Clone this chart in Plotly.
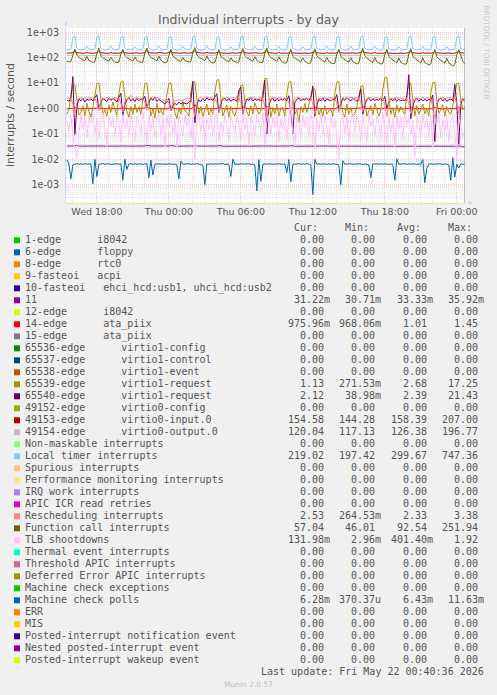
import plotly.graph_objects as go
import pandas as pd

# ---------------- layout constants (pixels) ----------------
W, H = 497, 695
ML, MR, MT, MB = 66, 32, 28, 492
PW = W - ML - MR          # 399
PH = H - MT - MB          # 175
PB = MT + PH              # 203

# ---------------- data ----------------
START = "2026-05-20 15:30"
N_POINTS = 200            # one point per 10 minutes
X_RANGE = ["2026-05-20 15:25:36", "2026-05-22 00:41:00"]
LAST_UPDATE = "2026-05-22 00:40:36"
LAST_UPDATE_TEXT = "Last update: Fri May 22 00:40:36 2026"

X_TICKVALS = ["2026-05-20 18:00", "2026-05-20 21:00", "2026-05-21 00:00", "2026-05-21 03:00",
              "2026-05-21 06:00", "2026-05-21 09:00", "2026-05-21 12:00", "2026-05-21 15:00",
              "2026-05-21 18:00", "2026-05-21 21:00", "2026-05-22 00:00"]
X_TICKTEXT = ["Wed 18:00", "", "Thu 00:00", "", "Thu 06:00", "", "Thu 12:00", "",
              "Thu 18:00", "", "Fri 00:00"]
Y_TICKVALS = [1e-3, 1e-2, 1e-1, 1e0, 1e1, 1e2, 1e3]
Y_TICKTEXT = ["1e-03", "1e-02", "1e-01", "1e+00", "1e+01", "1e+02", "1e+03"]

# each row = one 2-hour block of 12 ten-minute samples
IRQ11 = [
    [0.0333, 0.0331, 0.0334, 0.0336, 0.0348, 0.0337, 0.0332, 0.0330, 0.0331, 0.0333, 0.0335, 0.0332],
    [0.0332, 0.0330, 0.0333, 0.0338, 0.0352, 0.0336, 0.0331, 0.0329, 0.0330, 0.0332, 0.0336, 0.0331],
    [0.0331, 0.0329, 0.0332, 0.0335, 0.0346, 0.0335, 0.0330, 0.0328, 0.0329, 0.0331, 0.0334, 0.0330],
    [0.0332, 0.0330, 0.0333, 0.0337, 0.0359, 0.0338, 0.0332, 0.0330, 0.0331, 0.0332, 0.0335, 0.0331],
    [0.0331, 0.0329, 0.0332, 0.0335, 0.0345, 0.0334, 0.0330, 0.0328, 0.0329, 0.0330, 0.0333, 0.0330],
    [0.0332, 0.0331, 0.0334, 0.0339, 0.0355, 0.0337, 0.0332, 0.0330, 0.0331, 0.0333, 0.0336, 0.0332],
    [0.0330, 0.0328, 0.0331, 0.0334, 0.0344, 0.0334, 0.0329, 0.0327, 0.0328, 0.0330, 0.0333, 0.0329],
    [0.0331, 0.0330, 0.0333, 0.0336, 0.0349, 0.0336, 0.0331, 0.0329, 0.0330, 0.0332, 0.0335, 0.0331],
    [0.0332, 0.0330, 0.0333, 0.0338, 0.0353, 0.0337, 0.0331, 0.0329, 0.0330, 0.0332, 0.0335, 0.0331],
    [0.0330, 0.0328, 0.0331, 0.0334, 0.0343, 0.0333, 0.0329, 0.0327, 0.0328, 0.0329, 0.0332, 0.0329],
    [0.0331, 0.0329, 0.0332, 0.0336, 0.0347, 0.0335, 0.0330, 0.0328, 0.0329, 0.0331, 0.0334, 0.0330],
    [0.0330, 0.0329, 0.0331, 0.0335, 0.0346, 0.0334, 0.0329, 0.0327, 0.0328, 0.0330, 0.0333, 0.0329],
    [0.0331, 0.0330, 0.0332, 0.0337, 0.0350, 0.0336, 0.0330, 0.0328, 0.0329, 0.0331, 0.0334, 0.0330],
    [0.0329, 0.0327, 0.0330, 0.0333, 0.0342, 0.0332, 0.0328, 0.0326, 0.0327, 0.0328, 0.0331, 0.0328],
    [0.0330, 0.0328, 0.0331, 0.0335, 0.0348, 0.0334, 0.0329, 0.0327, 0.0328, 0.0330, 0.0333, 0.0329],
    [0.0329, 0.0327, 0.0330, 0.0333, 0.0344, 0.0332, 0.0328, 0.0326, 0.0327, 0.0328, 0.0331, 0.0328],
    [0.0329, 0.0327, 0.0330, 0.0334, 0.0345, 0.0331, 0.0307, 0.0312],
]
ATA_PIIX14 = [
    [0.98, 0.98, 0.99, 1.02, 1.12, 1.03, 0.99, 0.98, 0.98, 0.99, 1.01, 0.98],
    [0.98, 0.97, 0.99, 1.03, 1.18, 1.02, 0.99, 0.98, 0.97, 0.98, 1.02, 0.99],
    [0.99, 0.98, 0.98, 1.01, 1.10, 1.02, 0.98, 0.97, 0.98, 0.99, 1.00, 0.98],
    [0.98, 0.98, 0.99, 1.04, 1.20, 1.03, 0.99, 0.98, 0.98, 0.98, 1.01, 0.99],
    [0.98, 0.97, 0.98, 1.02, 1.14, 1.02, 0.98, 0.97, 0.98, 0.98, 1.01, 0.98],
    [0.99, 0.98, 0.99, 1.08, 1.45, 1.05, 0.99, 0.98, 0.98, 0.99, 1.02, 0.99],
    [0.98, 0.97, 0.98, 1.01, 1.11, 1.02, 0.98, 0.97, 0.97, 0.98, 1.00, 0.98],
    [0.98, 0.98, 0.99, 1.03, 1.16, 1.03, 0.99, 0.98, 0.98, 0.99, 1.01, 0.98],
    [0.98, 0.97, 0.99, 1.05, 1.25, 1.04, 0.99, 0.98, 0.97, 0.98, 1.02, 0.99],
    [0.98, 0.97, 0.98, 1.02, 1.12, 1.02, 0.98, 0.97, 0.97, 0.98, 1.00, 0.98],
    [0.98, 0.98, 0.99, 1.03, 1.15, 1.02, 0.99, 0.98, 0.98, 0.98, 1.01, 0.99],
    [0.98, 0.97, 0.98, 1.02, 1.13, 1.02, 0.98, 0.97, 0.98, 0.98, 1.01, 0.98],
    [0.99, 0.98, 0.99, 1.04, 1.19, 1.03, 0.99, 0.98, 0.98, 0.99, 1.02, 0.99],
    [0.98, 0.97, 0.98, 1.01, 1.10, 1.01, 0.98, 0.97, 0.97, 0.98, 1.00, 0.98],
    [0.98, 0.98, 0.99, 1.03, 1.17, 1.03, 0.99, 0.98, 0.98, 0.98, 1.01, 0.99],
    [0.98, 0.97, 0.98, 1.02, 1.12, 1.02, 0.98, 0.97, 0.97, 0.98, 1.01, 0.98],
    [0.98, 0.98, 0.99, 1.03, 1.14, 1.02, 0.98, 0.976],
]
VIRTIO1_REQ_65539 = [
    [0.6, 0.9, 3.0, 8.0, 8.5, 2.0, 0.55, 0.7, 1.3, 0.5, 1.6, 0.8],
    [0.45, 1.1, 3.5, 9.5, 10.0, 2.2, 0.6, 0.9, 0.5, 1.4, 0.7, 1.8],
    [0.9, 0.5, 4.0, 11.0, 12.0, 2.5, 0.8, 0.45, 1.2, 0.6, 1.5, 0.7],
    [1.2, 0.6, 3.2, 9.8, 10.0, 1.8, 0.5, 1.0, 0.42, 1.6, 0.65, 0.9],
    [0.55, 1.3, 3.6, 9.5, 10.2, 2.1, 0.7, 0.4, 1.1, 0.6, 1.9, 0.8],
    [0.7, 0.5, 4.2, 11.5, 11.0, 2.4, 0.6, 1.2, 0.48, 0.9, 1.5, 0.55],
    [0.95, 0.6, 4.5, 13.0, 13.7, 2.6, 0.5, 0.85, 1.4, 0.45, 1.2, 0.7],
    [0.5, 1.0, 3.0, 8.2, 8.5, 1.9, 0.75, 0.5, 1.3, 0.6, 1.7, 0.9],
    [0.6, 0.8, 5.0, 15.0, 15.7, 2.8, 0.45, 1.1, 0.6, 1.5, 0.5, 1.0],
    [1.1, 0.5, 3.8, 11.0, 11.5, 2.3, 0.6, 0.9, 0.27, 1.2, 0.7, 1.6],
    [0.7, 1.4, 2.5, 5.5, 6.0, 1.7, 0.55, 1.0, 0.5, 1.3, 0.6, 0.8],
    [0.9, 0.5, 3.9, 11.0, 11.5, 2.2, 0.7, 0.45, 1.5, 0.6, 1.1, 0.5],
    [0.6, 1.2, 3.0, 7.5, 8.0, 1.9, 0.5, 0.8, 1.3, 0.55, 1.6, 0.9],
    [0.5, 0.9, 5.5, 16.5, 17.25, 2.9, 0.6, 1.1, 0.45, 1.4, 0.7, 1.2],
    [0.8, 0.55, 3.6, 9.6, 10.0, 2.0, 0.5, 1.3, 0.6, 0.9, 1.5, 0.6],
    [1.0, 0.5, 4.0, 10.5, 11.0, 2.2, 0.65, 0.9, 1.4, 0.5, 1.2, 0.7],
    [0.6, 1.3, 3.7, 9.5, 10.0, 2.1, 0.9, 1.13],
]
VIRTIO1_REQ_65540 = [
    [2.2, 1.9, 2.5, 18.0, 0.095, 1.2, 2.4, 2.0, 2.6, 1.8, 2.3, 2.1],
    [2.4, 2.0, 2.7, 3.5, 0.9, 1.8, 2.5, 2.2, 1.9, 2.6, 2.1, 2.4],
    [2.3, 1.8, 2.6, 4.0, 0.5, 1.5, 2.2, 2.7, 2.0, 2.4, 1.9, 2.5],
    [2.0, 2.4, 2.2, 3.0, 1.1, 1.7, 2.6, 2.1, 2.8, 1.9, 2.3, 2.0],
    [1.8, 1.5, 1.9, 2.5, 0.8, 1.3, 1.6, 1.4, 1.8, 1.5, 1.7, 1.6],
    [1.5, 1.8, 2.0, 11.5, 0.27, 1.4, 2.2, 1.9, 2.5, 2.0, 2.6, 2.2],
    [2.4, 2.1, 2.7, 3.8, 0.7, 1.6, 2.3, 2.6, 2.0, 2.5, 1.9, 2.3],
    [2.2, 1.9, 5.0, 7.0, 0.6, 1.5, 2.4, 2.1, 2.7, 2.0, 2.4, 2.1],
    [2.3, 2.0, 2.6, 13.0, 0.10, 1.3, 2.2, 2.5, 1.9, 2.6, 2.0, 2.4],
    [2.1, 2.5, 2.0, 3.2, 1.0, 0.10, 1.8, 2.3, 2.6, 2.0, 2.4, 2.2],
    [2.5, 2.1, 2.7, 7.7, 0.5, 1.4, 2.3, 2.0, 2.6, 1.9, 2.4, 2.2],
    [2.0, 2.4, 2.2, 3.5, 0.9, 1.6, 2.5, 2.1, 2.7, 2.2, 2.0, 2.5],
    [2.3, 1.9, 2.5, 6.0, 0.6, 1.5, 2.2, 2.6, 2.0, 2.4, 2.1, 2.3],
    [2.1, 2.5, 2.0, 3.0, 1.0, 1.8, 2.4, 2.0, 2.6, 1.9, 2.3, 2.0],
    [2.2, 2.0, 2.6, 21.43, 0.4, 1.3, 2.1, 2.5, 1.9, 2.4, 2.0, 2.3],
    [2.0, 2.3, 2.1, 3.4, 0.05, 1.5, 2.2, 2.6, 2.0, 2.5, 1.9, 2.2],
    [2.4, 2.0, 9.0, 1.5, 0.039, 1.6, 2.3, 2.12],
]
VIRTIO0_INPUT = [
    [152, 150, 153, 160, 175, 158, 153, 150, 149, 151, 157, 152],
    [151, 149, 152, 162, 180, 157, 152, 149, 150, 150, 158, 151],
    [150, 148, 151, 158, 170, 155, 151, 148, 147, 149, 155, 150],
    [152, 150, 153, 165, 207, 162, 154, 151, 150, 152, 160, 153],
    [151, 149, 152, 159, 174, 156, 152, 149, 148, 150, 156, 151],
    [153, 151, 154, 163, 185, 160, 155, 152, 151, 153, 159, 154],
    [150, 148, 151, 157, 168, 154, 150, 147, 146, 148, 154, 149],
    [152, 150, 153, 161, 178, 158, 153, 150, 149, 151, 157, 152],
    [151, 149, 152, 164, 190, 159, 152, 149, 148, 150, 158, 151],
    [150, 147, 150, 156, 170, 154, 150, 147, 146, 148, 153, 149],
    [151, 149, 152, 160, 176, 157, 152, 149, 148, 150, 156, 151],
    [150, 148, 151, 158, 172, 155, 151, 148, 147, 149, 155, 150],
    [152, 150, 153, 162, 182, 159, 153, 150, 149, 151, 158, 152],
    [149, 146, 149, 155, 168, 153, 149, 146, 144, 147, 152, 148],
    [151, 149, 152, 160, 179, 157, 152, 149, 148, 150, 157, 151],
    [150, 148, 151, 157, 171, 155, 151, 148, 147, 149, 154, 150],
    [151, 149, 152, 159, 175, 156, 153, 155],
]
VIRTIO0_OUTPUT = [
    [122, 120, 123, 135, 170, 132, 124, 121, 120, 121, 128, 122],
    [121, 119, 122, 138, 178, 130, 123, 120, 119, 120, 129, 121],
    [120, 118, 121, 133, 162, 128, 122, 119, 118, 119, 126, 120],
    [122, 120, 123, 140, 196, 135, 125, 121, 120, 122, 130, 122],
    [121, 119, 122, 134, 168, 129, 123, 120, 119, 120, 127, 121],
    [123, 121, 124, 139, 182, 133, 125, 122, 121, 123, 130, 123],
    [120, 118, 121, 132, 160, 127, 121, 118, 117, 119, 125, 120],
    [122, 120, 123, 137, 175, 131, 124, 121, 120, 121, 129, 122],
    [121, 119, 122, 139, 186, 132, 123, 120, 119, 120, 128, 121],
    [120, 118, 120, 131, 163, 127, 121, 118, 117, 118, 125, 119],
    [121, 119, 122, 136, 172, 130, 123, 120, 119, 120, 127, 121],
    [120, 118, 121, 134, 166, 128, 122, 119, 118, 119, 126, 120],
    [122, 120, 123, 138, 180, 132, 124, 121, 120, 121, 129, 122],
    [119, 117, 119, 130, 160, 126, 120, 117, 117, 118, 124, 119],
    [121, 119, 122, 136, 176, 131, 123, 120, 119, 120, 128, 121],
    [120, 118, 121, 133, 165, 128, 122, 119, 118, 119, 126, 120],
    [121, 119, 122, 135, 170, 130, 121, 120],
]
LOCAL_TIMER = [
    [214, 209, 216, 630, 712, 236, 211, 207, 210, 214, 288, 219],
    [208, 206, 212, 655, 725, 228, 209, 205, 208, 212, 295, 216],
    [210, 207, 214, 620, 705, 232, 210, 206, 211, 209, 280, 215],
    [206, 205, 213, 645, 730, 240, 212, 207, 206, 210, 292, 214],
    [209, 204, 211, 610, 700, 226, 208, 205, 209, 211, 284, 217],
    [211, 207, 215, 660, 740, 235, 210, 208, 207, 213, 298, 218],
    [207, 205, 212, 600, 695, 229, 206, 204, 208, 210, 282, 213],
    [210, 206, 214, 650, 720, 233, 211, 206, 209, 212, 290, 216],
    [208, 204, 213, 635, 747, 238, 209, 205, 207, 211, 287, 215],
    [206, 203, 211, 615, 705, 227, 207, 203, 206, 209, 279, 212],
    [209, 205, 214, 640, 718, 231, 210, 206, 208, 211, 293, 217],
    [207, 204, 212, 625, 710, 230, 208, 204, 207, 210, 285, 214],
    [210, 206, 215, 650, 728, 236, 211, 207, 209, 213, 291, 218],
    [205, 198, 211, 605, 698, 225, 206, 202, 205, 208, 281, 212],
    [208, 205, 213, 640, 722, 232, 209, 205, 207, 211, 289, 215],
    [206, 204, 212, 620, 708, 229, 207, 203, 206, 209, 283, 213],
    [209, 205, 214, 645, 716, 234, 212, 219],
]
RESCHEDULING = [
    [2.6, 2.5, 2.4, 1.5, 0.55, 1.8, 2.6, 2.7, 2.5, 2.6, 2.4, 2.7],
    [2.6, 2.7, 2.5, 1.7, 0.85, 2.0, 2.6, 2.5, 2.7, 2.6, 2.5, 2.6],
    [2.7, 2.5, 2.6, 1.6, 0.7, 1.9, 2.5, 2.6, 3.38, 2.5, 2.6, 2.7],
    [2.5, 2.6, 2.4, 1.8, 0.9, 2.1, 2.7, 2.6, 2.5, 2.7, 2.6, 2.5],
    [2.2, 2.1, 2.3, 1.6, 0.8, 1.8, 2.0, 2.1, 2.2, 2.0, 2.1, 2.3],
    [2.4, 2.6, 2.5, 1.3, 0.48, 1.7, 2.6, 2.7, 2.5, 2.6, 2.8, 2.6],
    [2.7, 2.6, 2.5, 1.7, 0.75, 2.0, 2.6, 2.5, 2.7, 2.6, 2.5, 2.7],
    [2.6, 2.5, 2.7, 1.6, 0.65, 1.9, 2.5, 2.6, 2.5, 2.7, 2.6, 2.5],
    [2.6, 2.7, 2.5, 1.2, 0.40, 1.6, 2.6, 2.7, 2.6, 2.5, 2.7, 2.6],
    [2.5, 2.6, 2.4, 1.7, 0.8, 1.9, 2.5, 2.6, 2.7, 2.5, 2.6, 2.5],
    [2.6, 2.5, 2.7, 1.5, 0.6, 1.8, 2.6, 2.5, 2.6, 2.7, 2.5, 2.6],
    [2.7, 2.6, 2.5, 1.6, 0.7, 2.0, 2.7, 2.6, 2.5, 2.6, 2.7, 2.6],
    [2.6, 2.7, 2.5, 1.7, 0.75, 1.9, 2.5, 2.6, 2.7, 2.5, 2.6, 2.7],
    [2.5, 2.6, 2.7, 1.4, 0.5, 1.7, 2.6, 2.5, 2.6, 2.7, 2.5, 2.6],
    [2.6, 2.5, 2.6, 1.6, 0.6, 1.8, 2.7, 2.6, 2.5, 2.6, 2.7, 2.5],
    [2.7, 2.6, 2.5, 1.1, 0.26, 1.5, 2.5, 2.6, 2.7, 2.5, 2.6, 2.7],
    [2.6, 2.5, 2.7, 1.5, 0.6, 1.9, 2.6, 2.53],
]
FUNCTION_CALL = [
    [72, 68, 70, 135, 220, 125, 102, 92, 82, 76, 112, 80],
    [71, 66, 69, 150, 235, 118, 98, 88, 79, 73, 105, 78],
    [68, 64, 67, 140, 215, 122, 101, 90, 80, 74, 108, 77],
    [70, 65, 68, 155, 240, 128, 104, 91, 83, 75, 115, 81],
    [69, 63, 66, 138, 218, 116, 97, 86, 78, 71, 102, 76],
    [73, 67, 71, 160, 252, 130, 106, 93, 84, 77, 118, 82],
    [67, 62, 65, 132, 210, 112, 95, 85, 76, 70, 100, 74],
    [70, 66, 69, 148, 230, 121, 100, 89, 80, 73, 110, 78],
    [68, 64, 68, 152, 245, 126, 103, 90, 81, 72, 109, 77],
    [66, 61, 64, 136, 212, 114, 96, 84, 75, 69, 99, 72],
    [65, 60, 63, 142, 225, 119, 98, 86, 74, 68, 104, 71],
    [64, 58, 62, 139, 220, 117, 95, 83, 72, 66, 101, 70],
    [63, 57, 61, 145, 232, 120, 97, 84, 73, 65, 103, 68],
    [62, 56, 60, 134, 214, 113, 93, 81, 70, 63, 98, 66],
    [60, 55, 59, 140, 228, 118, 95, 82, 69, 62, 100, 64],
    [58, 52, 57, 130, 210, 110, 90, 78, 66, 60, 95, 62],
    [56, 46, 55, 128, 205, 108, 72, 57],
]
TLB_SHOOTDOWNS = [
    [0.35, 0.12, 0.55, 0.08, 0.03, 0.012, 0.09, 0.6, 0.15, 0.45, 0.07, 0.5],
    [0.25, 0.65, 0.1, 0.4, 0.06, 0.3, 0.7, 0.12, 0.032, 0.5, 0.2, 0.45],
    [0.08, 0.55, 0.3, 0.05, 0.6, 0.15, 0.42, 0.09, 0.65, 0.22, 0.05, 0.5],
    [0.3, 0.1, 0.7, 0.2, 0.04, 0.55, 0.13, 0.48, 0.07, 0.35, 0.62, 0.09],
    [0.45, 0.03, 0.5, 0.18, 0.6, 0.1, 0.4, 0.028, 0.55, 0.25, 0.08, 0.58],
    [0.2, 0.5, 0.07, 0.45, 0.010, 0.35, 0.66, 0.12, 0.5, 0.04, 0.4, 0.15],
    [0.6, 0.09, 0.38, 0.7, 0.05, 0.3, 0.11, 0.55, 0.2, 0.045, 0.5, 0.25],
    [0.1, 0.48, 0.22, 0.06, 0.62, 0.14, 0.4, 0.035, 0.52, 0.3, 0.08, 0.6],
    [0.35, 0.12, 0.68, 0.04, 0.3, 0.55, 0.09, 0.45, 0.18, 0.6, 0.05, 0.4],
    [0.15, 0.5, 0.06, 0.38, 1.92, 0.1, 0.033, 0.5, 0.25, 0.07, 0.58, 0.2],
    [0.45, 0.08, 0.6, 0.3, 0.025, 0.4, 0.12, 0.66, 0.09, 0.5, 0.2, 0.04],
    [0.55, 0.18, 0.42, 0.07, 0.010, 0.3, 0.6, 0.1, 0.48, 0.05, 0.35, 0.7],
    [0.12, 0.5, 0.28, 0.06, 0.55, 0.15, 0.045, 0.62, 0.2, 0.4, 0.08, 0.5],
    [0.3, 0.07, 0.65, 0.2, 0.04, 0.5, 0.1, 0.4, 0.03, 0.56, 0.15, 0.45],
    [0.06, 0.6, 0.22, 0.48, 0.1, 0.35, 0.013, 0.5, 0.25, 0.08, 0.62, 0.18],
    [0.4, 0.09, 0.55, 0.03, 0.45, 0.2, 0.68, 0.07, 0.38, 0.12, 0.52, 0.05],
    [0.3, 0.6, 0.1, 0.012, 0.45, 0.2, 0.08, 0.13],
]
MACHINE_CHECK_POLLS = [
    [0.0095, 0.0066, 0.0017, 0.0060, 0.0065, 0.0067, 0.0064, 0.0066, 0.0063, 0.0067, 0.0065, 0.0064],
    [0.0066, 0.0011, 0.0100, 0.0021, 0.0063, 0.0066, 0.0068, 0.0064, 0.0065, 0.0067, 0.0063, 0.0066],
    [0.0065, 0.0067, 0.0064, 0.0066, 0.0015, 0.0102, 0.0040, 0.0065, 0.0067, 0.0063, 0.0066, 0.0064],
    [0.0067, 0.0065, 0.0063, 0.0066, 0.0068, 0.0019, 0.0095, 0.0024, 0.0064, 0.0066, 0.0065, 0.0067],
    [0.0063, 0.0066, 0.0064, 0.0067, 0.0065, 0.0063, 0.0066, 0.0060, 0.0017, 0.0085, 0.0064, 0.0066],
    [0.0065, 0.0067, 0.0063, 0.0066, 0.0064, 0.0068, 0.0065, 0.0063, 0.0058, 0.0010, 0.0066, 0.0064],
    [0.0066, 0.0063, 0.0067, 0.0065, 0.0064, 0.0066, 0.0068, 0.0063, 0.0065, 0.0061, 0.0021, 0.0100],
    [0.0064, 0.0066, 0.0063, 0.0067, 0.0065, 0.0064, 0.0066, 0.0068, 0.0063, 0.0065, 0.0059, 0.00058],
    [0.0098, 0.00135, 0.0062, 0.0066, 0.0064, 0.0067, 0.0065, 0.0063, 0.0066, 0.0064, 0.0067, 0.0065],
    [0.0063, 0.0066, 0.0030, 0.0097, 0.0013, 0.0064, 0.0066, 0.0065, 0.0067, 0.0063, 0.0066, 0.0064],
    [0.0067, 0.0065, 0.0062, 0.00041, 0.0100, 0.0063, 0.0066, 0.0064, 0.0067, 0.0065, 0.0063, 0.0066],
    [0.0064, 0.0067, 0.0065, 0.0063, 0.0061, 0.0010, 0.0088, 0.0064, 0.0066, 0.0065, 0.0067, 0.0063],
    [0.0066, 0.0064, 0.0067, 0.0065, 0.0063, 0.0066, 0.0064, 0.0060, 0.0019, 0.0066, 0.0065, 0.0067],
    [0.0063, 0.0066, 0.0064, 0.0067, 0.0065, 0.0063, 0.0066, 0.0062, 0.0015, 0.0105, 0.0064, 0.0066],
    [0.0065, 0.0067, 0.0063, 0.0066, 0.0064, 0.0067, 0.0065, 0.0063, 0.0066, 0.0064, 0.0100, 0.0012],
    [0.0045, 0.0065, 0.0067, 0.0063, 0.0066, 0.0064, 0.0067, 0.0065, 0.0063, 0.0066, 0.0064, 0.0061],
    [0.0015, 0.0116, 0.0020, 0.0064, 0.0046, 0.0066, 0.0064, 0.00628],
]

# legend table
LEGEND_LABELS = [
    "1-edge      i8042", "6-edge      floppy", "8-edge      rtc0", "9-fasteoi   acpi",
    "10-fasteoi   ehci_hcd:usb1, uhci_hcd:usb2", "11", "12-edge      i8042",
    "14-edge      ata_piix", "15-edge      ata_piix", "65536-edge      virtio1-config",
    "65537-edge      virtio1-control", "65538-edge      virtio1-event",
    "65539-edge      virtio1-request", "65540-edge      virtio1-request",
    "49152-edge      virtio0-config", "49153-edge      virtio0-input.0",
    "49154-edge      virtio0-output.0", "Non-maskable interrupts", "Local timer interrupts",
    "Spurious interrupts", "Performance monitoring interrupts", "IRQ work interrupts",
    "APIC ICR read retries", "Rescheduling interrupts", "Function call interrupts",
    "TLB shootdowns", "Thermal event interrupts", "Threshold APIC interrupts",
    "Deferred Error APIC interrupts", "Machine check exceptions", "Machine check polls",
    "ERR", "MIS", "Posted-interrupt notification event", "Nested posted-interrupt event",
    "Posted-interrupt wakeup event",
]
LEGEND_COLORS = [
    "#00CC00", "#0066B3", "#FF8000", "#FFCC00", "#330099", "#990099", "#CCFF00", "#FF0000",
    "#808080", "#008F00", "#00487D", "#B35A00", "#B38F00", "#6B006B", "#8FB300", "#B30000",
    "#BEBEBE", "#80FF80", "#80C9FF", "#FFC080", "#FFE680", "#AA80FF", "#EE00CC", "#FF8080",
    "#666600", "#FFBFFF", "#00FFCC", "#CC6699", "#999900", "#00CC00", "#0066B3", "#FF8000",
    "#FFCC00", "#330099", "#990099", "#CCFF00",
]
Z = "0.00"
CUR = [Z, Z, Z, Z, Z, "31.22m", Z, "975.96m", Z, Z, Z, Z, "1.13", "2.12", Z, "154.58", "120.04",
       Z, "219.02", Z, Z, Z, Z, "2.53", "57.04", "131.98m", Z, Z, Z, Z, "6.28m", Z, Z, Z, Z, Z]
MIN = [Z, Z, Z, Z, Z, "30.71m", Z, "968.06m", Z, Z, Z, Z, "271.53m", "38.98m", Z, "144.28", "117.13",
       Z, "197.42", Z, Z, Z, Z, "264.53m", "46.01", "2.96m", Z, Z, Z, Z, "370.37u", Z, Z, Z, Z, Z]
AVG = [Z, Z, Z, Z, Z, "33.33m", Z, "1.01", Z, Z, Z, Z, "2.68", "2.39", Z, "158.39", "126.38",
       Z, "299.67", Z, Z, Z, Z, "2.33", "92.54", "401.40m", Z, Z, Z, Z, "6.43m", Z, Z, Z, Z, Z]
MAX = [Z, Z, Z, Z, Z, "35.92m", Z, "1.45", Z, Z, Z, Z, "17.25", "21.43", Z, "207.00", "196.77",
       Z, "747.36", Z, Z, Z, Z, "3.38", "251.94", "1.92", Z, Z, Z, Z, "11.63m", Z, Z, Z, Z, Z]
COL_HEADERS = ["Cur:", "Min:", "Avg:", "Max:"]

# series drawn on the graph (nonzero ones), in munin drawing order
PLOTTED = [
    ("11", IRQ11, "#990099"),
    ("14-edge", ATA_PIIX14, "#FF0000"),
    ("65539-edge", VIRTIO1_REQ_65539, "#B38F00"),
    ("65540-edge", VIRTIO1_REQ_65540, "#6B006B"),
    ("49153-edge", VIRTIO0_INPUT, "#B30000"),
    ("49154-edge", VIRTIO0_OUTPUT, "#BEBEBE"),
    ("Local timer interrupts", LOCAL_TIMER, "#80C9FF"),
    ("Rescheduling interrupts", RESCHEDULING, "#FF8080"),
    ("Function call interrupts", FUNCTION_CALL, "#666600"),
    ("TLB shootdowns", TLB_SHOOTDOWNS, "#FFBFFF"),
    ("Machine check polls", MACHINE_CHECK_POLLS, "#0066B3"),
]


def flat(rows):
    out = []
    for r in rows:
        out.extend(r)
    return out


times = pd.date_range(START, periods=N_POINTS, freq="10min")

fig = go.Figure()
for name, rows, color in PLOTTED:
    fig.add_trace(go.Scatter(x=times, y=flat(rows), mode="lines", name=name,
                             line=dict(color=color, width=1), hoverinfo="skip"))

SANS = "DejaVu Sans"
MONO = "DejaVu Sans Mono"
FONT_COLOR = "#555555"


def px(xp):
    return (xp - ML) / PW


def py(yp):
    return (PB - yp) / PH


def ann(text, xp, yp, size, color, family, xanchor="left", yanchor="middle", angle=0):
    return dict(text=text, x=px(xp), y=py(yp), xref="paper", yref="paper", showarrow=False,
                xanchor=xanchor, yanchor=yanchor, textangle=angle, borderpad=0, borderwidth=0,
                font=dict(size=size, color=color, family=family))


def nb(s):
    return s.replace(" ", "\u00a0")


annotations = []
shapes = []
annotations.append(ann("Individual interrupts - by day", 248.5, 19.3, 12.5, "#606060", SANS,
                       xanchor="center"))
annotations.append(ann("interrupts / second", 10.5, 115.5, 11, FONT_COLOR, SANS,
                       xanchor="center", angle=-90))
annotations.append(ann("RRDTOOL / TOBI OETIKER", 486, 52.5, 7.3, "#C8C8C8", SANS,
                       xanchor="center", angle=90))

ROW0 = 239.7
ROW_H = 12.0
LABEL_X = 25.4
COL_RIGHT = [329.8, 381.1, 432.5, 483.5]
for j, h in enumerate(COL_HEADERS):
    annotations.append(ann(nb(h + "  "), COL_RIGHT[j], 227.7, 10, FONT_COLOR, MONO, xanchor="right"))

for i, label in enumerate(LEGEND_LABELS):
    yc = ROW0 + ROW_H * i
    shapes.append(dict(type="rect", xref="paper", yref="paper", x0=px(14), x1=px(20),
                       y0=py(yc - 2.4), y1=py(yc + 3.6), fillcolor=LEGEND_COLORS[i],
                       line=dict(width=0)))
    annotations.append(ann(nb(label), LABEL_X, yc, 10, FONT_COLOR, MONO))
    for j, col in enumerate([CUR, MIN, AVG, MAX]):
        v = col[i]
        if v[-1].isdigit():
            v = v + " "
        annotations.append(ann(nb(v), COL_RIGHT[j], yc, 10, FONT_COLOR, MONO, xanchor="right"))

annotations.append(ann(nb(LAST_UPDATE_TEXT), 483.5, 671.7, 10, FONT_COLOR, MONO, xanchor="right"))
annotations.append(ann("Munin 2.0.57", 248.5, 684.3, 7.5, "#C0C0C0", SANS, xanchor="center"))

# axis arrows (munin style)
annotations.append(dict(x=px(66), y=py(21), xref="paper", yref="paper", ax=0, ay=7, text="",
                        showarrow=True, arrowhead=2, arrowsize=0.8, arrowwidth=1,
                        arrowcolor="#CFD6F8"))
annotations.append(dict(x=px(473), y=py(203), xref="paper", yref="paper", ax=-7, ay=0, text="",
                        showarrow=True, arrowhead=2, arrowsize=0.8, arrowwidth=1,
                        arrowcolor="#CFD6F8"))

# "now" rule
shapes.append(dict(type="line", xref="x", yref="paper", x0=LAST_UPDATE, x1=LAST_UPDATE,
                   y0=0, y1=1, line=dict(color="#999999", width=1)))

minor_y = [k * 10.0 ** e for e in range(-4, 4) for k in range(2, 10)]

MAJOR_GRID = "#F6C4C4"
MINOR_GRID = "#E2E2E2"

fig.update_layout(
    width=W, height=H,
    margin=dict(l=ML, r=MR, t=MT, b=MB, pad=0),
    paper_bgcolor="#F0F0F0", plot_bgcolor="#FFFFFF",
    showlegend=False,
    annotations=annotations, shapes=shapes,
    xaxis=dict(
        type="date", range=X_RANGE, tickmode="array", tickvals=X_TICKVALS, ticktext=X_TICKTEXT,
        showgrid=True, gridcolor=MAJOR_GRID, griddash="1px,1px", gridwidth=1,
        zeroline=False, showline=True, linecolor="#D4EC98", linewidth=1, ticks="",
        tickfont=dict(family=SANS, size=9.5, color=FONT_COLOR),
        minor=dict(dtick=3600000, tick0="2026-05-20 18:00", showgrid=True,
                   gridcolor=MINOR_GRID, griddash="1px,1px", ticks=""),
        fixedrange=True,
    ),
    yaxis=dict(
        type="log", range=[-3.72, 3.17], tickmode="array", tickvals=Y_TICKVALS,
        ticktext=Y_TICKTEXT, showgrid=True, gridcolor=MAJOR_GRID, griddash="1px,1px",
        zeroline=False, showline=True, linecolor="#CFD6F8", linewidth=1, ticks="",
        ticklabelstandoff=4,
        tickfont=dict(family=SANS, size=9.6, color=FONT_COLOR),
        minor=dict(tickmode="array", tickvals=minor_y, showgrid=True,
                   gridcolor=MINOR_GRID, griddash="1px,1px", ticks=""),
        fixedrange=True,
    ),
)

fig.write_html(
    "out.html",
    config={"displayModeBar": False, "staticPlot": True},
    post_script="document.body.style.margin='0px';document.body.style.padding='0px';"
                "document.body.style.overflow='hidden';",
)
